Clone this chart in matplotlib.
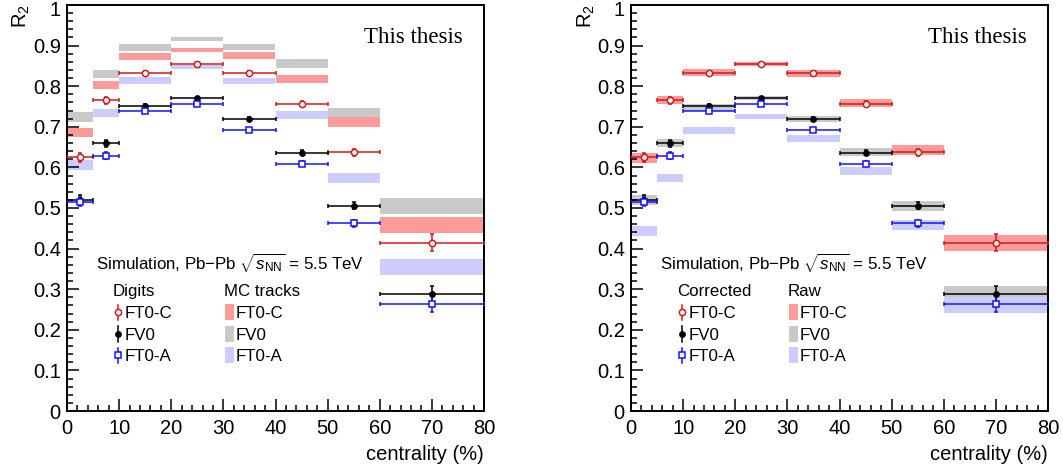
import numpy as np
import matplotlib
matplotlib.use("Agg")
import matplotlib.pyplot as plt
import matplotlib.transforms as mtransforms
from matplotlib.ticker import MultipleLocator, FuncFormatter

plt.rcParams["font.family"] = ["Liberation Sans", "DejaVu Sans"]
plt.rcParams["mathtext.fontset"] = "custom"
plt.rcParams["mathtext.rm"] = "Liberation Sans"
plt.rcParams["mathtext.it"] = "Liberation Sans:italic"

# Centrality binning (%)
bin_edges = [0, 5, 10, 20, 30, 40, 50, 60, 80]

# R2 from digits (after correction)
r2_ft0c = [0.625, 0.765, 0.833, 0.855, 0.832, 0.757, 0.637, 0.415]
r2_fv0 = [0.520, 0.659, 0.750, 0.770, 0.719, 0.636, 0.506, 0.289]
r2_ft0a = [0.516, 0.629, 0.740, 0.756, 0.693, 0.609, 0.462, 0.264]
r2_err = [0.011, 0.008, 0.005, 0.004, 0.005, 0.006, 0.008, 0.020]

# R2 from MC tracks
mc_ft0c = [0.686, 0.803, 0.872, 0.889, 0.876, 0.817, 0.711, 0.459]
mc_fv0 = [0.724, 0.830, 0.895, 0.916, 0.897, 0.856, 0.735, 0.505]
mc_ft0a = [0.605, 0.734, 0.814, 0.847, 0.813, 0.730, 0.574, 0.355]

# Raw (uncorrected) R2 from digits
raw_ft0c = [0.623, 0.765, 0.834, 0.855, 0.831, 0.759, 0.643, 0.414]
raw_fv0 = [0.520, 0.660, 0.748, 0.771, 0.719, 0.637, 0.505, 0.288]
raw_ft0a = [0.443, 0.574, 0.691, 0.725, 0.671, 0.591, 0.458, 0.262]

# Statistical half-width of the band entries
band_err = [0.012, 0.010, 0.0086, 0.0055, 0.008, 0.010, 0.012, 0.020]

RED = "#d21a1a"
BLUE = "#1414ff"
BLACK = "#000000"
RED_BAND = "#ff9a9a"
GRAY_BAND = "#c9c9c9"
BLUE_BAND = "#ccccff"

AXIS_FS = 14.5
LEG_FS = 12.2

edges = np.array(bin_edges, dtype=float)
centers = 0.5 * (edges[:-1] + edges[1:])
halfw = 0.5 * (edges[1:] - edges[:-1])
band_e = np.array(band_err)

W, H = 1063, 473
fig = plt.figure(figsize=(W / 100, H / 100), dpi=100)

ax_l = fig.add_axes([67 / W, (H - 411) / H, 417 / W, 406 / H])
ax_r = fig.add_axes([631 / W, (H - 411) / H, 417 / W, 406 / H])


def draw_bands(ax, vals, color):
    v = np.array(vals)
    ax.bar(edges[:-1], 2 * band_e, bottom=v - band_e, width=np.diff(edges),
           align="edge", color=color, linewidth=0, zorder=1)


def draw_points(ax, vals, color, marker, filled, ms):
    ax.errorbar(centers, vals, xerr=halfw, yerr=r2_err, fmt="none",
                ecolor=color, elinewidth=1.1, capsize=1.5, capthick=1.1, zorder=3)
    ax.plot(centers, vals, linestyle="none", marker=marker, ms=ms,
            mfc=color if filled else "white", mec=color, mew=1.1, zorder=4)


def style_axes(ax):
    ax.set_xlim(0, 80)
    ax.set_ylim(0, 1)
    ax.xaxis.set_major_locator(MultipleLocator(10))
    ax.xaxis.set_minor_locator(MultipleLocator(2))
    ax.yaxis.set_major_locator(MultipleLocator(0.1))
    ax.yaxis.set_minor_locator(MultipleLocator(0.02))
    ax.yaxis.set_major_formatter(FuncFormatter(lambda v, p: f"{v:g}"))
    ax.tick_params(which="both", direction="in", top=False, right=False,
                   labelsize=AXIS_FS, width=1.1)
    ax.tick_params(which="major", length=8.6)
    ax.tick_params(which="minor", length=4.3)
    ax.tick_params(axis="x", pad=6)
    ax.tick_params(axis="y", pad=4.5)
    for s in ax.spines.values():
        s.set_linewidth(1.4)
    ax.text(1.0, -0.083, "centrality (%)", transform=ax.transAxes,
            ha="right", va="top", fontsize=AXIS_FS)
    ax.text(0.950, 0.906, "This thesis", transform=ax.transAxes,
            ha="right", va="baseline", fontsize=16.5,
            family=["Liberation Serif", "DejaVu Serif"])
    ax.text(0.070, 0.347, r"Simulation, Pb$-$Pb $\sqrt{s_{\mathrm{NN}}}$ = 5.5 TeV",
            transform=ax.transAxes, ha="left", va="baseline", fontsize=LEG_FS)


def draw_legend(ax, head_pts, head_band):
    tr = ax.transAxes
    ax.text(0.110, 0.283, head_pts, transform=tr, ha="left", va="baseline", fontsize=LEG_FS)
    ax.text(0.376, 0.283, head_band, transform=tr, ha="left", va="baseline", fontsize=LEG_FS)
    rows = [("FT0-C", RED, RED_BAND, "o", False, 4.5),
            ("FV0", BLACK, GRAY_BAND, "o", True, 3.8),
            ("FT0-A", BLUE, BLUE_BAND, "s", False, 4.5)]
    base = 0.229
    step = 0.053
    for i, (name, c, bc, m, filled, ms) in enumerate(rows):
        yb = base - i * step
        yc = yb + 0.014
        ax.plot([0.122, 0.122], [yc - 0.019, yc + 0.019], transform=tr,
                color=c, lw=1.1, clip_on=False, zorder=5)
        ax.plot([0.122], [yc], transform=tr, marker=m, ms=ms,
                mfc=c if filled else "white", mec=c, mew=1.1,
                clip_on=False, zorder=6)
        ax.text(0.139, yb, name, transform=tr, ha="left", va="baseline", fontsize=LEG_FS)
        ax.add_patch(plt.Rectangle((0.379, yc - 0.020), 0.022, 0.040,
                                   transform=tr, color=bc, lw=0, zorder=5))
        ax.text(0.405, yb, name, transform=tr, ha="left", va="baseline", fontsize=LEG_FS)


# Left: digits vs MC tracks
draw_bands(ax_l, mc_ft0c, RED_BAND)
draw_bands(ax_l, mc_fv0, GRAY_BAND)
draw_bands(ax_l, mc_ft0a, BLUE_BAND)
draw_points(ax_l, r2_ft0c, RED, "o", False, 4.5)
draw_points(ax_l, r2_fv0, BLACK, "o", True, 3.8)
draw_points(ax_l, r2_ft0a, BLUE, "s", False, 4.5)
style_axes(ax_l)
draw_legend(ax_l, "Digits", "MC tracks")

# Right: corrected vs raw
draw_bands(ax_r, raw_ft0c, RED_BAND)
draw_bands(ax_r, raw_fv0, GRAY_BAND)
draw_bands(ax_r, raw_ft0a, BLUE_BAND)
draw_points(ax_r, r2_ft0c, RED, "o", False, 4.5)
draw_points(ax_r, r2_fv0, BLACK, "o", True, 3.8)
draw_points(ax_r, r2_ft0a, BLUE, "s", False, 4.5)
style_axes(ax_r)
draw_legend(ax_r, "Corrected", "Raw")

# Axis titles
fig.text(21 / W, 1 - 4 / H, "R$_{2}$", rotation=90, ha="center", va="top", fontsize=AXIS_FS)
fig.text(586 / W, 1 - 4 / H, "R$_{2}$", rotation=90, ha="center", va="top", fontsize=AXIS_FS)

# Keep the topmost y label inside the canvas
fig.canvas.draw()
shift = mtransforms.ScaledTranslation(0, -4 / 100, fig.dpi_scale_trans)
for ax in (ax_l, ax_r):
    for lab in ax.get_yticklabels():
        if lab.get_text() == "1":
            lab.set_transform(lab.get_transform() + shift)

fig.savefig("out.png", dpi=100)
